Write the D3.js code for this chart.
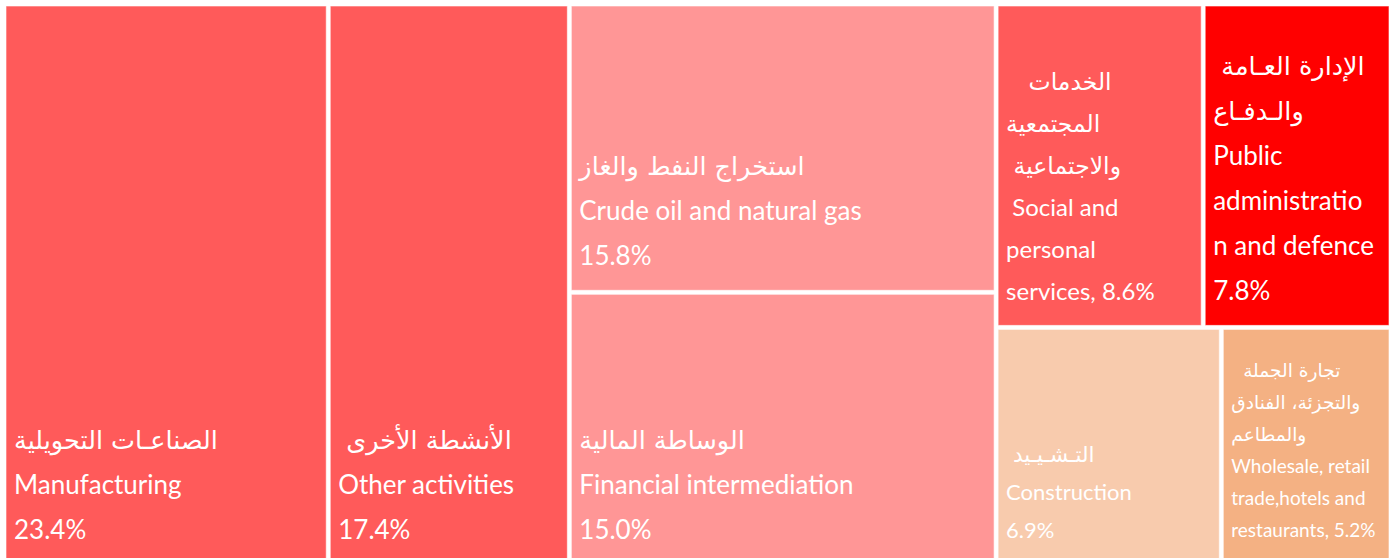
<!DOCTYPE html>
<html>
<head>
<meta charset="utf-8">
<script src="https://cdn.jsdelivr.net/npm/d3@7"></script>
<style>
  body { margin: 0; background: #fff; overflow: hidden; }
  svg { display: block; }
  text { white-space: pre; }
</style>
</head>
<body>
<div id="viz"></div>
<script>
// sectors, shares (%) and label lines
const sectorsEn = ["Manufacturing", "Other activities", "Crude oil and natural gas", "Financial intermediation",
    "Social and personal services", "Public administration and defence", "Construction", "Wholesale, retail trade,hotels and restaurants"];
const shares = [23.4, 17.4, 15.8, 15.0, 8.6, 7.8, 6.9, 5.2];
const colors = ["#FF5A5A", "#FF5A5A", "#FF9696", "#FF9696", "#FF5A5A", "#FF0000", "#F8CBAD", "#F4B183"];
const arLines = [
    ["الصناعـات التحويلية"],
    ["\u00A0الأنشطة الأخرى"],
    ["استخراج النفط والغاز"],
    ["الوساطة المالية"],
    ["\u00A0\u00A0\u00A0الخدمات", "المجتمعية", "\u00A0والاجتماعية"],
    ["\u00A0الإدارة العـامة", "والـدفـاع"],
    ["\u00A0التـشـيـيد"],
    ["\u00A0\u00A0تجارة الجملة", "والتجزئة، الفنادق", "والمطاعم"]
];
const enLines = [
    ["Manufacturing"],
    ["Other activities"],
    ["Crude oil and natural gas"],
    ["Financial intermediation"],
    ["\u00A0Social and", "personal", "services,"],
    ["Public", "administratio", "n and defence"],
    ["Construction"],
    ["Wholesale, retail", "trade,hotels and", "restaurants,"]
];
// how the blocks are grouped: columns, then rows inside the last column
const blocks = [[0], [1], [2, 3], [[4, 5], [6, 7]]];

const width = 1397;
const height = 558;

const svg = d3.select("#viz").append("svg")
    .attr("width", width)
    .attr("height", height);

function build(b) {
    if (typeof b === "number") return { i: b, value: shares[b] };
    return { children: b.map(build) };
}

const root = d3.hierarchy({ children: blocks.map(build) })
    .sum(d => d.value || 0);

d3.treemap()
    .tile(d3.treemapSliceDice)
    .size([1387, 562])(root);

const g = svg.append("g").attr("transform", "translate(4,4)");

const fontSize = [26, 26, 26, 26, 24, 26, 22, 19];
const lineH = [45, 45, 45, 45, 42, 45, 38, 32];

const cell = g.selectAll("g.cell")
    .data(root.leaves())
    .enter()
    .append("g")
    .attr("class", "cell");

cell.append("rect")
    .attr("x", d => d.x0 + 2)
    .attr("y", d => d.y0 + 2)
    .attr("width", d => d.x1 - d.x0 - 4)
    .attr("height", d => d.y1 - d.y0 - 4)
    .attr("fill", d => colors[d.data.i])
    .attr("stroke", "#fff")
    .attr("stroke-opacity", 0.6)
    .attr("stroke-width", 1);

cell.each(function (d) {
    const i = d.data.i;
    const pct = shares[i].toFixed(1) + "%";
    const en = enLines[i].slice();
    if (en[en.length - 1].endsWith(",")) en[en.length - 1] += " " + pct;
    else en.push(pct);
    const lines = arLines[i].map(t => ({ t, ar: true })).concat(en.map(t => ({ t, ar: false })));
    const fs = fontSize[i];
    const lh = lineH[i];
    const lastBase = d.y1 - 2 - 34 + fs * 0.35;
    const x = d.x0 + 2 + 8;
    d3.select(this).selectAll("text")
        .data(lines)
        .enter()
        .append("text")
        .attr("x", x)
        .attr("y", (l, k) => lastBase - (lines.length - 1 - k) * lh)
        .attr("fill", "#fff")
        .attr("direction", "ltr")
        .style("font-family", l => l.ar ? "'DejaVu Sans', sans-serif" : "Lato, sans-serif")
        .style("font-size", l => (l.ar ? fs * 0.98 : fs) + "px")
        .text(l => l.t);
});
</script>
</body>
</html>
